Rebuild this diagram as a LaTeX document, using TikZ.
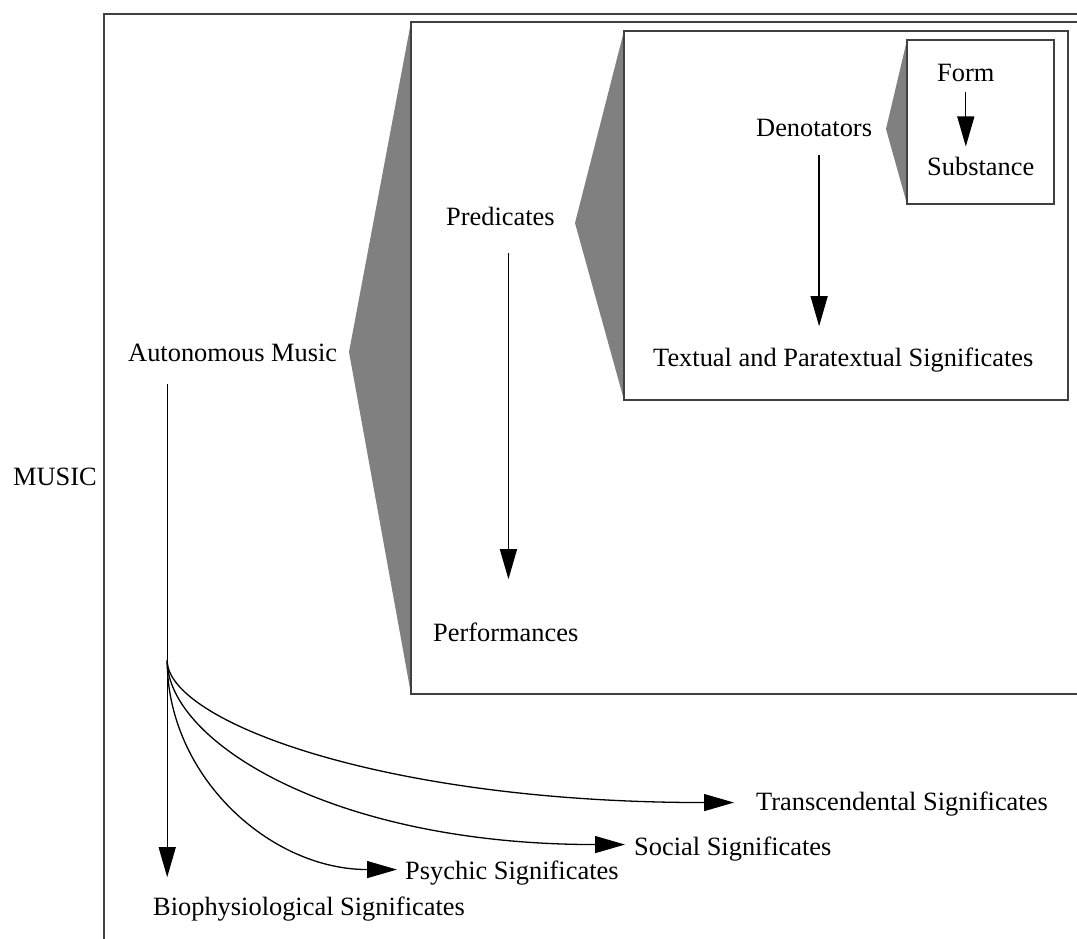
\documentclass[tikz,border=0pt]{standalone}
\usepackage{fontspec}
\setmainfont{Liberation Serif}
\usetikzlibrary{arrows.meta,calc}
\begin{document}
\begin{tikzpicture}[x=1pt,y=-1pt,
  lbl/.style={anchor=base west, inner sep=0pt, font=\fontsize{26.4}{31}\selectfont},
  frame/.style={draw=black!75, line width=1.8pt},
  wedge/.style={fill=black!50, draw=none},
  conn/.style={draw=black, line width=1.3pt},
  arr/.style={conn, -{Triangle[length=30pt,width=17pt]}}]
\useasboundingbox (0,0) rectangle (1077,938);

% grey wedges opening towards each nested frame
\fill[wedge] (411,22) -- (349,352) -- (411,694) -- cycle;
\fill[wedge] (624,31) -- (575,223) -- (624,400) -- cycle;
\fill[wedge] (907,40) -- (886,129) -- (907,204) -- cycle;

% nested frames
\draw[frame] (1090,14) -- (104,14) -- (104,950);
\draw[frame] (1090,22) -- (411,22) -- (411,694) -- (1090,694);
\draw[frame] (624,31) rectangle (1068,400);
\draw[frame] (907,40) rectangle (1054,204);

% labels
\node[lbl] (music)  at (13,485)  {MUSIC};
\node[lbl] (auto)   at (128,361) {Autonomous Music};
\node[lbl] (pred)   at (446,225) {Predicates};
\node[lbl] (perf)   at (433,641) {Performances};
\node[lbl] (deno)   at (756,136) {Denotators};
\node[lbl] (form)   at (937,81)  {Form};
\node[lbl] (subst)  at (927,175) {Substance};
\node[lbl] (text)   at (653,366) {Textual and Paratextual Significates};
\node[lbl] (trans)  at (756,810) {Transcendental Significates};
\node[lbl] (social) at (634,855) {Social Significates};
\node[lbl] (psych)  at (405,879) {Psychic Significates};
\node[lbl] (bio)    at (153,915) {Biophysiological Significates};

% vertical arrows
\draw[arr] ($(form.south)+(0,11)$) -- ($(form.south |- subst.north)+(0,-10)$);
\draw[arr] ($(deno.south)+(5,19)$) -- ($(deno.south |- text.north)+(5,-21)$);
\draw[arr] ($(pred.south)+(8,28)$) -- ($(pred.south |- perf.north)+(8,-43)$);

% stem from Autonomous Music, branching into the four significates
\coordinate (branch) at ($(auto.south)+(-65.5,299)$);
\draw[arr] ($(auto.south)+(-65.5,23)$) -- (branch) -- ($(branch |- bio.north)+(0,-19)$);
\draw[arr] (branch) .. controls +(0,60) and +(-353,0) .. ($(trans.west)+(-22,-1)$);
\draw[arr] (branch) .. controls +(0,80) and +(-295,0) .. ($(social.west)+(-9,-4)$);
\draw[arr] (branch) .. controls +(0,116) and +(-127,0) .. ($(psych.west)+(-8,-3)$);
\end{tikzpicture}
\end{document}
